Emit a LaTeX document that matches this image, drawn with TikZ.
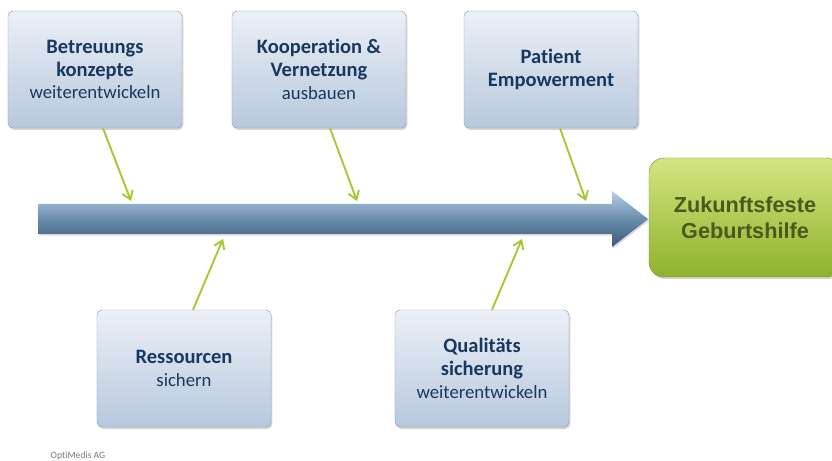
\documentclass[tikz,border=0pt]{standalone}
\usepackage{fontspec}
\setmainfont{Carlito}[Ligatures=NoCommon]
\newfontfamily\goalFont{Liberation Sans}
\usetikzlibrary{positioning,shadows,arrows.meta}
\definecolor{boxTop}{RGB}{236,240,247}
\definecolor{boxBottom}{RGB}{183,200,221}
\definecolor{boxBorder}{RGB}{140,160,188}
\definecolor{boxText}{RGB}{24,56,96}
\definecolor{spineLight}{RGB}{182,208,230}
\definecolor{spineMid}{RGB}{104,140,172}
\definecolor{spineDark}{RGB}{58,90,120}
\definecolor{leafGreen}{RGB}{164,200,48}
\definecolor{goalTop}{RGB}{212,229,130}
\definecolor{goalBottom}{RGB}{142,178,42}
\definecolor{goalText}{RGB}{72,90,30}
\definecolor{footerGray}{RGB}{118,118,118}
\tikzstyle{pixelGrid} = [x=0.03cm, y=-0.03cm]
\tikzstyle{causeBox} = [draw=boxBorder, top color=boxTop, bottom color=boxBottom, rounded corners=0.15cm, minimum width=5.22cm, minimum height=3.51cm, align=center, text=boxText, font=\fontsize{16}{19.5}\selectfont, drop shadow={opacity=0.35, shadow xshift=0.04cm, shadow yshift=-0.06cm}]
\tikzstyle{goalBox} = [draw=goalBottom!85!black, top color=goalTop, bottom color=goalBottom, rounded corners=0.45cm, minimum width=5.76cm, minimum height=3.57cm, align=center, text=goalText, font=\goalFont\bfseries\fontsize{18.5}{22}\selectfont, drop shadow={opacity=0.35, shadow xshift=0.04cm, shadow yshift=-0.06cm}]
\tikzstyle{spineStyle} = [top color=spineLight, bottom color=spineDark, middle color=spineMid, drop shadow={opacity=0.3, shadow xshift=0.03cm, shadow yshift=-0.05cm}]
\tikzstyle{leafArrow} = [draw=leafGreen, line width=1.6pt, -{Straight Barb[length=0.24cm, width=0.33cm]}]
\tikzstyle{footerText} = [text=footerGray, font=\fontsize{8.2}{10}\selectfont]
\newcommand{\causeHead}[1]{{\bfseries\fontsize{17.5}{19.5}\selectfont #1}}

\begin{document}
\begin{tikzpicture}[pixelGrid]
  \useasboundingbox (0,0) rectangle (832,461);
  % spine arrow
  \path[spineStyle] (38,204) -- (612,204) -- (612,191) -- (648,219) -- (612,247) -- (612,234) -- (38,234) -- cycle;
  \coordinate (spineA) at (131,201);
  \coordinate (spineB) at (357,201);
  \coordinate (spineC) at (586,201);
  \coordinate (spineD) at (223,239);
  \coordinate (spineE) at (522,239);

  % causes
  \node[causeBox] (betreuung) at (95,69.5) {\causeHead{Betreuungs}\\\causeHead{konzepte}\\weiterentwickeln};
  \node[causeBox] (kooperation) at (319,69.5) {\causeHead{Kooperation \&}\\\causeHead{Vernetzung}\\ausbauen};
  \node[causeBox] (patient) at (551,69.5) {\causeHead{Patient}\\\causeHead{Empowerment}};
  \node[causeBox] (ressourcen) at (184,368.5) {\causeHead{Ressourcen}\\sichern};
  \node[causeBox] (qualitaet) at (482,368.5) {\causeHead{Qualitäts}\\\causeHead{sicherung}\\weiterentwickeln};

  % goal
  \node[goalBox] (goal) at (745,217.5) {Zukunftsfeste\\Geburtshilfe};

  % connectors
  \draw[leafArrow] ([xshift=0.24cm]betreuung.south) -- (spineA);
  \draw[leafArrow] ([xshift=0.33cm]kooperation.south) -- (spineB);
  \draw[leafArrow] ([xshift=0.27cm]patient.south) -- (spineC);
  \draw[leafArrow] ([xshift=0.27cm]ressourcen.north) -- (spineD);
  \draw[leafArrow] ([xshift=0.3cm]qualitaet.north) -- (spineE);

  \node[footerText, anchor=base] (footer) at (78,459) {OptiMedis AG};
\end{tikzpicture}
\end{document}
